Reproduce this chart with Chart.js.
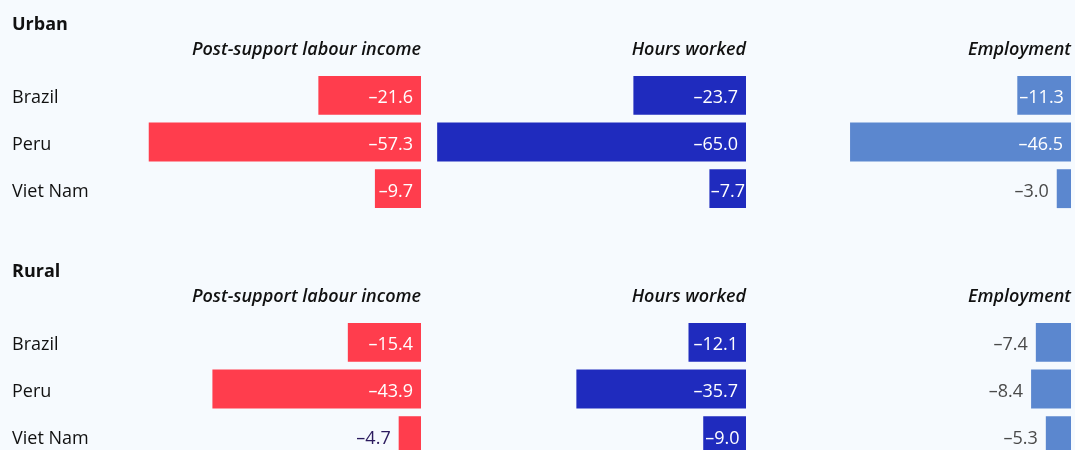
<!DOCTYPE html>
<html><head><meta charset="utf-8">
<script src="https://cdn.jsdelivr.net/npm/chart.js@4/dist/chart.umd.min.js"></script>
<style>
html,body{margin:0;padding:0;background:#f6fafe;overflow:hidden;width:1075px;height:450px}
.wrap{position:absolute;left:0;width:1075px;height:247px}
</style></head><body>
<div class="wrap" style="top:0"><canvas id="urban"></canvas></div>
<div class="wrap" style="top:247px"><canvas id="rural"></canvas></div>
<script>
const countries = ['Brazil', 'Peru', 'Viet Nam'];
const seriesNames = ['Post-support labour income', 'Hours worked', 'Employment'];
const urbanIncome = [-21.6, -57.3, -9.7];
const urbanHours = [-23.7, -65.0, -7.7];
const urbanEmployment = [-11.3, -46.5, -3.0];
const ruralIncome = [-15.4, -43.9, -4.7];
const ruralHours = [-12.1, -35.7, -9.0];
const ruralEmployment = [-7.4, -8.4, -5.3];

const FONT = "'Open Sans', 'Noto Sans', sans-serif";
const FS = 18;
const colors = ['#ff3d4d', '#1f2bbe', '#5b87cf'];
const outsideColors = ['#2b1b5e', '#4a4a4a', '#4a4a4a'];
const insideMin = [5, 7, 10];

const labelPlugin = {
  id: 'barLabels',
  afterDatasetsDraw(chart) {
    const ctx = chart.ctx;
    ctx.save();
    ctx.font = FS + 'px ' + FONT;
    ctx.textBaseline = 'middle';
    ctx.textAlign = 'right';
    chart.data.datasets.forEach((ds, di) => {
      const meta = chart.getDatasetMeta(di);
      meta.data.forEach((el, i) => {
        const v = ds.data[i];
        const txt = '\u2013' + Math.abs(v).toFixed(1);
        const left = Math.min(el.x, el.base);
        const right = Math.max(el.x, el.base);
        const tw = ctx.measureText(txt).width;
        if (Math.abs(v) >= insideMin[di]) {
          const pad = Math.min(8, Math.max(1, (right - left) - tw - 2));
          ctx.fillStyle = '#ffffff';
          ctx.fillText(txt, right - pad, el.y + 3);
        } else {
          ctx.fillStyle = outsideColors[di];
          ctx.fillText(txt, left - 8, el.y + 3);
        }
      });
    });
    ctx.restore();
  }
};

function makeChart(id, title, values) {
  const xScale = (k) => ({
    type: 'linear',
    position: 'top',
    stack: 'cols',
    weight: 2 - k,
    min: -68.4,
    max: 0,
    grid: { display: false, drawTicks: false },
    border: { display: false },
    ticks: { display: false },
    title: {
      display: true,
      text: seriesNames[k],
      align: 'end',
      color: '#111111',
      font: { family: FONT, size: FS, style: 'italic', weight: '600', lineHeight: 1.2 },
      padding: { top: 2.5, bottom: 11.7 }
    }
  });
  return new Chart(document.getElementById(id), {
    type: 'bar',
    data: {
      labels: countries,
      datasets: values.map((vals, k) => ({
        label: seriesNames[k],
        data: vals,
        xAxisID: 'x' + k,
        backgroundColor: colors[k],
        grouped: false,
        barPercentage: 1,
        categoryPercentage: 0.833,
        borderWidth: 0
      }))
    },
    options: {
      indexAxis: 'y',
      responsive: true,
      maintainAspectRatio: false,
      animation: false,
      layout: { padding: { left: 12, right: 4, top: 0, bottom: 35 } },
      plugins: {
        legend: { display: false },
        tooltip: { enabled: false },
        title: {
          display: true,
          text: title,
          align: 'start',
          color: '#111111',
          font: { family: FONT, size: FS, weight: 'bold', lineHeight: 1.2 },
          padding: { top: 14, bottom: 0.6 }
        }
      },
      scales: {
        y: {
          type: 'category',
          position: 'left',
          grid: { display: false, drawTicks: false },
          border: { display: false },
          ticks: { crossAlign: 'far', color: '#111111', padding: 0, labelOffset: 3, font: { family: FONT, size: FS } },
          afterFit: (s) => { s.width = 84; }
        },
        x0: xScale(0),
        x1: xScale(1),
        x2: xScale(2)
      }
    },
    plugins: [labelPlugin]
  });
}

makeChart('urban', 'Urban', [urbanIncome, urbanHours, urbanEmployment]);
makeChart('rural', 'Rural', [ruralIncome, ruralHours, ruralEmployment]);
</script>
</body></html>
